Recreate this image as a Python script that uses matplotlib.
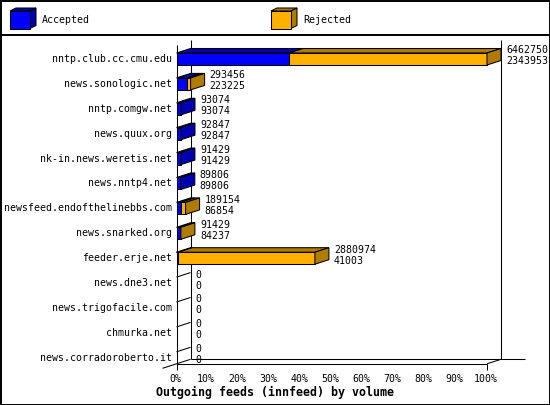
import matplotlib
matplotlib.use('Agg')
import matplotlib.pyplot as plt
from matplotlib.patches import Polygon, Rectangle

# ---------------- data ----------------
hosts = ['nntp.club.cc.cmu.edu', 'news.sonologic.net', 'nntp.comgw.net',
         'news.quux.org', 'nk-in.news.weretis.net', 'news.nntp4.net',
         'newsfeed.endofthelinebbs.com', 'news.snarked.org', 'feeder.erje.net',
         'news.dne3.net', 'news.trigofacile.com', 'chmurka.net',
         'news.corradoroberto.it']
offered = [6462750, 293456, 93074, 92847, 91429, 89806, 189154, 91429,
           2880974, 0, 0, 0, 0]
accepted = [2343953, 223225, 93074, 92847, 91429, 89806, 86854, 84237,
            41003, 0, 0, 0, 0]
legend_labels = ['Accepted', 'Rejected']
tick_values = [0, 10, 20, 30, 40, 50, 60, 70, 80, 90, 100]
title = 'Outgoing feeds (innfeed) by volume'

# ---------------- style / layout ----------------
W, H = 550, 405
BLUE, DBLUE = '#0000FF', '#0000B0'
ORANGE, DORANGE = '#FFB000', '#B07C00'
MONO = 'DejaVu Sans Mono'
FS = 7.1
LW = 0.75

X_ORIGIN_PX = 176.5
PX_PER_PCT = 3.105
ROW0_PX = 59.0
ROW_PX = 24.9


def px2x(px):
    return (px - X_ORIGIN_PX) / PX_PER_PCT


def py2y(py):
    return (py - ROW0_PX) / ROW_PX


DX = 14 / PX_PER_PCT
DY = 4.5 / ROW_PX
HH = 6 / ROW_PX

fig = plt.figure(figsize=(W / 100, H / 100), dpi=100)

# decoration layer in pixel units
deco = fig.add_axes([0, 0, 1, 1])
deco.set_xlim(0, W)
deco.set_ylim(H, 0)
deco.axis('off')
deco.add_patch(Rectangle((0.5, 0.5), W - 1, H - 1, fill=False, ec='black', lw=1.4))
deco.plot([0, W], [34.5, 34.5], color='black', lw=1.4)

# legend
for x0, (lab, fc, dc) in zip([10, 271], zip(legend_labels, [BLUE, ORANGE], [DBLUE, DORANGE])):
    y0, y1, x1 = 11, 28.5, x0 + 20
    d, e = 6, 3
    deco.add_patch(Polygon([(x0, y0), (x1, y0), (x1 + d, y0 - e), (x0 + d, y0 - e)],
                           closed=True, fc=dc, ec='black', lw=LW))
    deco.add_patch(Polygon([(x1, y0), (x1, y1), (x1 + d, y1 - e), (x1 + d, y0 - e)],
                           closed=True, fc=dc, ec='black', lw=LW))
    deco.add_patch(Rectangle((x0, y0), 20, y1 - y0, fc=fc, ec='black', lw=LW))
    deco.text(x1 + 12, 20, lab, family=MONO, fontsize=FS, va='center', ha='left')

# main chart layer in data units
ax = fig.add_axes([0, 0, 1, 1])
ax.set_xlim(px2x(0), px2x(W))
ax.set_ylim(py2y(H), py2y(0))
ax.axis('off')
ax.patch.set_alpha(0)

n = len(hosts)
yb_last = (n - 1) + HH
kw = dict(color='black', lw=LW, solid_capstyle='butt')

# walls and floor
ax.plot([0, 0], [py2y(45), py2y(370)], **kw)
ax.plot([DX, DX], [py2y(40), yb_last - DY], **kw)
ax.plot([100 + DX, 100 + DX], [py2y(40), yb_last - DY], **kw)
ax.plot([0, 100], [yb_last, yb_last], **kw)
ax.plot([100, 100 + DX], [yb_last, yb_last - DY], **kw)
ax.plot([-DX, DX], [yb_last + DY, yb_last - DY], **kw)
ax.plot([DX, px2x(525)], [yb_last - DY, yb_last - DY], **kw)
ax.plot([100, 100], [yb_last, yb_last + 6 / ROW_PX], **kw)

vmax = max(offered)
for i, (h, o, a) in enumerate(zip(hosts, offered, accepted)):
    xa = a / vmax * 100
    xo = o / vmax * 100
    yt, yb = i - HH, i + HH
    ax.text(px2x(172), i, h, family=MONO, fontsize=FS, ha='right', va='center')
    if o > 0:
        segs = [(0, xa, BLUE, DBLUE)]
        if xo - xa > 1e-9:
            segs.append((xa, xo, ORANGE, DORANGE))
        for s0, s1, fc, dc in segs:
            ax.add_patch(Polygon([(s0, yt), (s1, yt), (s1 + DX, yt - DY), (s0 + DX, yt - DY)],
                                 closed=True, fc=dc, ec='black', lw=LW, zorder=3))
            ax.add_patch(Rectangle((s0, yt), s1 - s0, yb - yt, fc=fc, ec='black',
                                   lw=LW, zorder=3))
        side = segs[-1][3]
        ax.add_patch(Polygon([(xo, yt), (xo, yb), (xo + DX, yb - DY), (xo + DX, yt - DY)],
                             closed=True, fc=side, ec='black', lw=LW, zorder=3))
    else:
        ax.plot([0, DX], [yt, yt - DY], **kw)
    lx = xo + DX + 5 / PX_PER_PCT
    ax.text(lx, i - 8.5 / ROW_PX, str(o), family=MONO, fontsize=FS, ha='left', va='center')
    ax.text(lx, i + 2.5 / ROW_PX, str(a), family=MONO, fontsize=FS, ha='left', va='center')

for v in tick_values:
    ax.text(v - 0.5, py2y(378.5), f'{v}%', family=MONO, fontsize=FS, ha='center', va='center')

fig.text(0.5, 1 - 392 / H, title, family=MONO, fontsize=8.4, fontweight='bold',
         ha='center', va='center')

fig.savefig('out.png', dpi=100)
